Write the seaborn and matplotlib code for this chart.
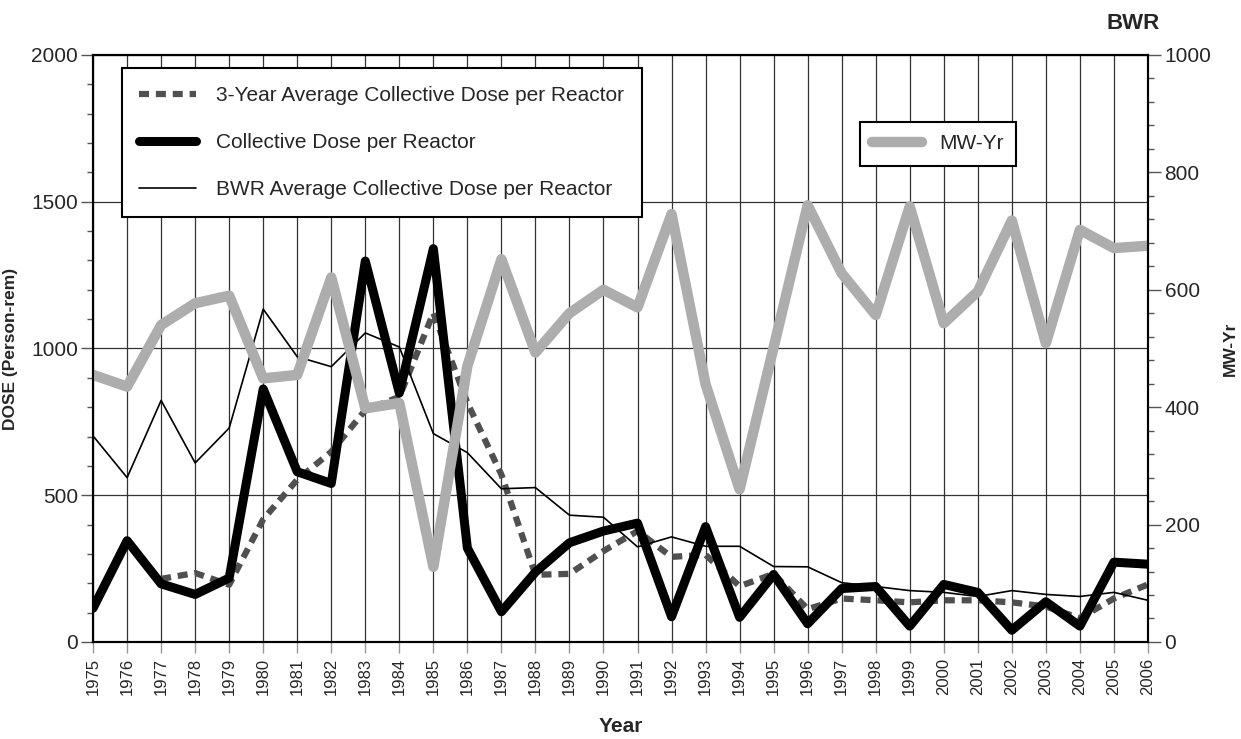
import numpy as np
import pandas as pd
import seaborn as sns
import matplotlib.pyplot as plt
from matplotlib.ticker import MultipleLocator

sns.set_style('white')
plt.rcParams['font.family'] = ['Liberation Sans', 'DejaVu Sans']

# values
years = list(range(1975, 2007))

dose = [115, 345, 198, 162, 218, 862, 580, 540, 1298, 848, 1340, 320, 103, 238, 338, 378,
        405, 86, 393, 84, 230, 62, 182, 189, 54, 196, 169, 40, 137, 54, 272, 265]

avg3 = [np.nan, np.nan, 215, 235, 195, 418, 553, 648, 790, 835, 1121, 815, 570, 229, 232, 310,
        378, 290, 297, 190, 232, 112, 148, 142, 135, 142, 142, 135, 121, 81, 148, 196]

bwr_avg = [702, 560, 823, 610, 729, 1134, 972, 938, 1053, 1005, 710, 645, 522, 526, 432, 425,
           324, 358, 326, 326, 257, 256, 202, 189, 175, 169, 155, 175, 162, 155, 169, 142]

mwyr = [455, 435, 540, 577, 590, 449, 455, 621, 398, 407, 128, 470, 652, 493, 560, 600,
        570, 729, 439, 260, 502, 744, 628, 557, 742, 543, 597, 718, 509, 702, 671, 675]

df = pd.DataFrame({'year': years, 'dose': dose, 'avg3': avg3, 'bwr': bwr_avg, 'mwyr': mwyr})

fig = plt.figure(figsize=(12.41, 7.39), dpi=100)
ax = fig.add_axes([0.075, 0.1313, 0.85, 0.7943])

sns.lineplot(data=df, x='year', y='avg3', ax=ax, color='#505050', linewidth=4.5,
             label='3-Year Average Collective Dose per Reactor')
ax.lines[-1].set_dashes((1.6, 1.1))
sns.lineplot(data=df, x='year', y='dose', ax=ax, color='black', linewidth=6.5,
             label='Collective Dose per Reactor')
sns.lineplot(data=df, x='year', y='bwr', ax=ax, color='black', linewidth=1.2,
             label='BWR Average Collective Dose per Reactor')

ax.set_xlim(1975, 2006)
ax.set_ylim(0, 2000)
ax.set_xticks(years)
ax.set_xticklabels([str(y) for y in years], rotation=90, fontsize=12)
ax.yaxis.set_major_locator(MultipleLocator(500))
ax.yaxis.set_minor_locator(MultipleLocator(100))
ax.tick_params(axis='y', which='major', length=9, width=1, pad=2, labelsize=15, left=True, color='#555555')
ax.tick_params(axis='y', which='minor', length=4.5, width=1, left=True, color='#555555')
ax.tick_params(axis='x', which='major', length=8, width=1, bottom=True, color='#999999')
ax.grid(True, which='major', color='#333333', linewidth=0.9)
for s in ax.spines.values():
    s.set_linewidth(1.5)
    s.set_color('black')

ax.set_xlabel('Year', fontsize=15, fontweight='bold')
ax.xaxis.set_label_coords(0.5, -0.128)
ax.set_ylabel('DOSE (Person-rem)', fontsize=12.5, fontweight='bold')
ax.yaxis.set_label_coords(-0.071, 0.5)

leg = ax.legend(loc='upper left', bbox_to_anchor=(0.027, 0.977), borderaxespad=0, fontsize=15,
                frameon=True, fancybox=False, edgecolor='black', framealpha=1,
                handlelength=2.7, handletextpad=1.0, labelspacing=1.35, borderpad=0.85)
leg.get_frame().set_linewidth(1.5)

# MW-Yr on the right axis
ax2 = ax.twinx()
sns.lineplot(data=df, x='year', y='mwyr', ax=ax2, color='#adadad', linewidth=7.5, label='MW-Yr')
ax2.set_ylim(0, 1000)
ax2.set_xlim(1975, 2006)
ax2.yaxis.set_major_locator(MultipleLocator(200))
ax2.yaxis.set_minor_locator(MultipleLocator(40))
ax2.tick_params(axis='y', which='major', length=9, width=1, pad=3, labelsize=15, right=True, color='#555555')
ax2.tick_params(axis='y', which='minor', length=4.5, width=1, right=True, color='#555555')
ax2.set_ylabel('MW-Yr', fontsize=12.5, fontweight='bold')
ax2.yaxis.set_label_coords(1.071, 0.5)
for s in ax2.spines.values():
    s.set_linewidth(1.5)
    s.set_color('black')

leg2 = ax2.legend(loc='upper left', bbox_to_anchor=(0.727, 0.886), borderaxespad=0, fontsize=15,
                  frameon=True, fancybox=False, edgecolor='black', framealpha=1,
                  handlelength=2.4, handletextpad=0.8, borderpad=0.6)
leg2.get_frame().set_linewidth(1.5)

fig.text(0.913, 0.968, 'BWR', fontsize=16, fontweight='bold', ha='center', va='center')

fig.savefig('out.png', dpi=100)
